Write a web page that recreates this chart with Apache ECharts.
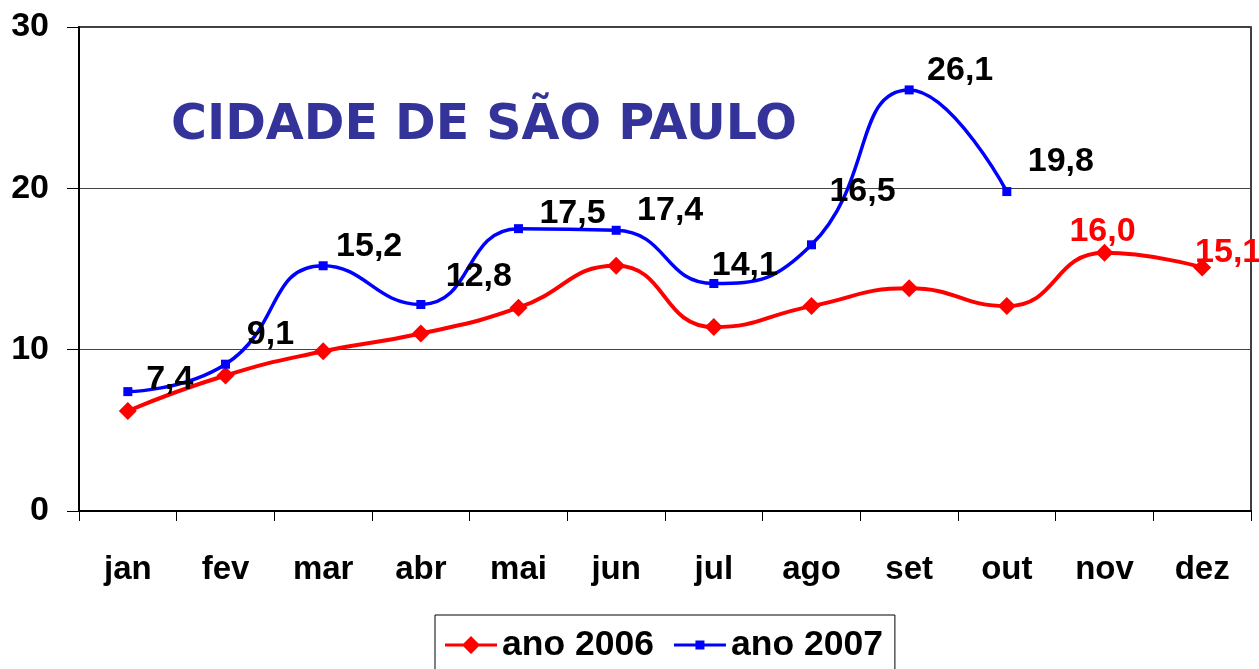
<!DOCTYPE html>
<html>
<head>
<meta charset="utf-8">
<script src="https://cdn.jsdelivr.net/npm/echarts@6/dist/echarts.min.js"></script>
<style>
html,body{margin:0;padding:0;background:#fff;}
#chart{width:1259px;height:669px;}
</style>
</head>
<body>
<div id="chart"></div>
<script>
const chartTitle = 'CIDADE DE SÃO PAULO';
const categories = ['jan','fev','mar','abr','mai','jun','jul','ago','set','out','nov','dez'];
const seriesNames = ['ano 2006','ano 2007'];
const values2006 = [6.2, 8.4, 9.9, 11.0, 12.6, 15.2, 11.4, 12.7, 13.8, 12.7, 16.0, 15.1];
const values2007 = [7.4, 9.1, 15.2, 12.8, 17.5, 17.4, 14.1, 16.5, 26.1, 19.8];
const labeledMonths2006 = ['nov','dez'];
const yTicks = [0, 10, 20, 30];

const fmt = v => (typeof v === 'object' ? v.value : v).toFixed(1).replace('.', ',');

// label placement (style), per point of 2007
const offsets2007 = [[42,-12],[45,-30],[46,-19],[58,-28],[54,-15],[54,-20],[31,-18],[51,-53],[51,-19],[54,-30]];
const offsets2006 = {nov:[-2,-21], dez:[26,-15]};

const labelFont = {fontFamily:'Liberation Sans, Arial, sans-serif', fontWeight:'bold', fontSize:34};

const data2006 = values2006.map((v,i) => {
  const m = categories[i];
  if (labeledMonths2006.indexOf(m) >= 0) {
    return {value:v, label:Object.assign({show:true, position:'inside', offset:offsets2006[m], color:'#ff0000', formatter:p=>fmt(p.value)}, labelFont)};
  }
  return {value:v};
});
const data2007 = values2007.map((v,i) => ({
  value:v,
  label:Object.assign({show:true, position:'inside', offset:offsets2007[i], color:'#000', formatter:p=>fmt(p.value)}, labelFont)
}));

const redIcon = 'path://M0,8.5h52v3H0z M26,1L35,10L26,19L17,10z M0,0h0.01v0.01h-0.01z M51.99,19.99h0.01v0.01h-0.01z';
const blueIcon = 'path://M0,8.5h52v3H0z M21.5,5.5h9v9h-9z M0,0h0.01v0.01h-0.01z M51.99,19.99h0.01v0.01h-0.01z';

const chart = echarts.init(document.getElementById('chart'), null, {renderer:'canvas'});
chart.setOption({
  animation:false,
  backgroundColor:'#fff',
  title:{
    text:chartTitle, left:166, top:97,
    textStyle:{fontFamily:'DejaVu Sans, sans-serif', fontWeight:'bold', fontSize:49, color:'#333399'}
  },
  grid:{left:79, right:8, top:27, bottom:158, show:true, borderColor:'#000', borderWidth:1.5, backgroundColor:'transparent'},
  legend:{
    left:435, top:615,
    padding:[12,12,14,10],
    borderColor:'#000', borderWidth:1,
    itemWidth:52, itemHeight:20, itemGap:20,
    textStyle:{fontFamily:'Liberation Sans, Arial, sans-serif', fontWeight:'bold', fontSize:35.5, color:'#000'},
    data:[{name:seriesNames[0], icon:redIcon},{name:seriesNames[1], icon:blueIcon}]
  },
  xAxis:{
    type:'category', data:categories, boundaryGap:true,
    axisLine:{lineStyle:{color:'#000', width:2}},
    axisTick:{show:true, length:10, interval:0, lineStyle:{color:'#000', width:1}},
    axisLabel:{margin:42, interval:0, color:'#000', fontFamily:'Liberation Sans, Arial, sans-serif', fontWeight:'bold', fontSize:33},
    splitLine:{show:false}
  },
  yAxis:{
    type:'value', min:yTicks[0], max:yTicks[yTicks.length-1], interval:10,
    axisLine:{show:true, lineStyle:{color:'#000', width:2}},
    axisTick:{show:true, length:12, lineStyle:{color:'#000', width:1}},
    axisLabel:{margin:30, color:'#000', fontFamily:'Liberation Sans, Arial, sans-serif', fontWeight:'bold', fontSize:34},
    splitLine:{show:true, lineStyle:{color:'#444', width:1}}
  },
  series:[
    {
      name:seriesNames[0], type:'line', data:data2006, smooth:0.5,
      symbol:'diamond', symbolSize:18,
      lineStyle:{color:'#ff0000', width:4},
      itemStyle:{color:'#ff0000'},
      z:2
    },
    {
      name:seriesNames[1], type:'line', data:data2007, smooth:0.5,
      symbol:'rect', symbolSize:9,
      lineStyle:{color:'#0000ff', width:3.5},
      itemStyle:{color:'#0000ff'},
      z:3
    }
  ]
});
</script>
</body>
</html>
